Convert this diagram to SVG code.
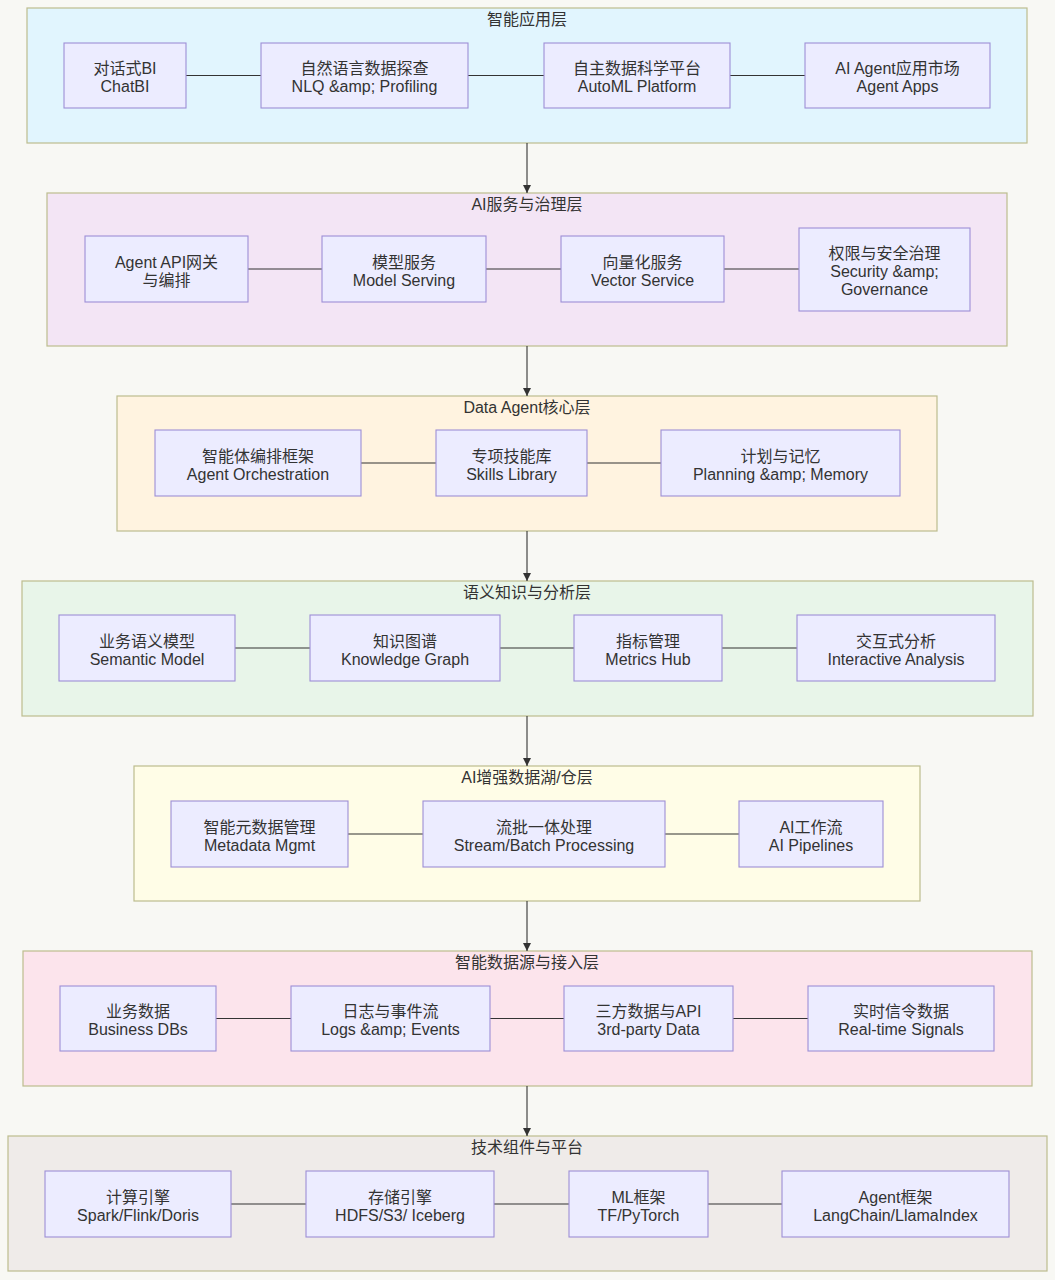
<svg xmlns="http://www.w3.org/2000/svg" width="1055" height="1280" viewBox="0 0 1055 1280">
<defs>
<style>
.bg{fill:#f8f8f4}
.layer{stroke:#bdbd8e;stroke-width:1.2}
.node rect{fill:#ececff;stroke:#9d8fd6;stroke-width:1.1}
text{font-family:"Liberation Sans","Noto Sans CJK SC",sans-serif;font-size:16px;fill:#333;text-anchor:middle}
.node text{transform:translate(0px,1.5px)}
.conn line{stroke:#333;stroke-width:1.1}
.arrow{marker-end:url(#ah)}
</style>
<marker id="ah" viewBox="0 0 10 10" refX="10" refY="5" markerWidth="8" markerHeight="8" markerUnits="userSpaceOnUse" orient="auto">
<path d="M0,0 L10,5 L0,10 z" fill="#333"/>
</marker>
</defs>
<rect class="bg" x="0" y="0" width="1055" height="1280"/>

<g id="layer1">
<rect class="layer" x="27" y="8" width="1000" height="135" fill="#e1f5fe"/>
<text x="527" y="25">智能应用层</text>
</g>
<g id="layer2">
<rect class="layer" x="47" y="193" width="960" height="153" fill="#f3e5f5"/>
<text x="527" y="210">AI服务与治理层</text>
</g>
<g id="layer3">
<rect class="layer" x="117" y="396" width="820" height="135" fill="#fff3e0"/>
<text x="527" y="413">Data Agent核心层</text>
</g>
<g id="layer4">
<rect class="layer" x="22" y="581" width="1011" height="135" fill="#e8f5e9"/>
<text x="527" y="598">语义知识与分析层</text>
</g>
<g id="layer5">
<rect class="layer" x="134" y="766" width="786" height="135" fill="#fffde7"/>
<text x="527" y="783">AI增强数据湖/仓层</text>
</g>
<g id="layer6">
<rect class="layer" x="23" y="951" width="1009" height="135" fill="#fce4ec"/>
<text x="527" y="968">智能数据源与接入层</text>
</g>
<g id="layer7">
<rect class="layer" x="8" y="1136" width="1039" height="135" fill="#efebe9"/>
<text x="527" y="1153">技术组件与平台</text>
</g>

<g id="connectors" class="conn">
<line x1="186" y1="75.5" x2="261" y2="75.5"/>
<line x1="468" y1="75.5" x2="544" y2="75.5"/>
<line x1="730" y1="75.5" x2="805" y2="75.5"/>
<line x1="248" y1="269" x2="322" y2="269"/>
<line x1="486" y1="269" x2="561" y2="269"/>
<line x1="724" y1="269" x2="799" y2="269"/>
<line x1="361" y1="463" x2="436" y2="463"/>
<line x1="587" y1="463" x2="661" y2="463"/>
<line x1="235" y1="648" x2="310" y2="648"/>
<line x1="500" y1="648" x2="574" y2="648"/>
<line x1="722" y1="648" x2="797" y2="648"/>
<line x1="348" y1="834" x2="423" y2="834"/>
<line x1="665" y1="834" x2="739" y2="834"/>
<line x1="216" y1="1018.5" x2="291" y2="1018.5"/>
<line x1="490" y1="1018.5" x2="564" y2="1018.5"/>
<line x1="733" y1="1018.5" x2="808" y2="1018.5"/>
<line x1="231" y1="1204" x2="306" y2="1204"/>
<line x1="494" y1="1204" x2="569" y2="1204"/>
<line x1="708" y1="1204" x2="782" y2="1204"/>
<line class="arrow" x1="527" y1="143" x2="527" y2="193"/>
<line class="arrow" x1="527" y1="346" x2="527" y2="396"/>
<line class="arrow" x1="527" y1="531" x2="527" y2="581"/>
<line class="arrow" x1="527" y1="716" x2="527" y2="766"/>
<line class="arrow" x1="527" y1="901" x2="527" y2="951"/>
<line class="arrow" x1="527" y1="1086" x2="527" y2="1136"/>
</g>

<g id="A1" class="node"><rect x="64" y="43" width="122" height="65"/><text x="125" y="72">对话式BI</text><text x="125" y="90">ChatBI</text></g>
<g id="A2" class="node"><rect x="261" y="43" width="207" height="65"/><text x="364.5" y="72">自然语言数据探查</text><text x="364.5" y="90">NLQ &amp;amp; Profiling</text></g>
<g id="A3" class="node"><rect x="544" y="43" width="186" height="65"/><text x="637" y="72">自主数据科学平台</text><text x="637" y="90">AutoML Platform</text></g>
<g id="A4" class="node"><rect x="805" y="43" width="185" height="65"/><text x="897.5" y="72">AI Agent应用市场</text><text x="897.5" y="90">Agent Apps</text></g>

<g id="B1" class="node"><rect x="85" y="236" width="163" height="66"/><text x="166.5" y="266">Agent API网关</text><text x="166.5" y="284">与编排</text></g>
<g id="B2" class="node"><rect x="322" y="236" width="164" height="66"/><text x="404" y="266">模型服务</text><text x="404" y="284">Model Serving</text></g>
<g id="B3" class="node"><rect x="561" y="236" width="163" height="66"/><text x="642.5" y="266">向量化服务</text><text x="642.5" y="284">Vector Service</text></g>
<g id="B4" class="node"><rect x="799" y="228" width="171" height="83"/><text x="884.5" y="257">权限与安全治理</text><text x="884.5" y="275">Security &amp;amp;</text><text x="884.5" y="293">Governance</text></g>

<g id="C1" class="node"><rect x="155" y="430" width="206" height="66"/><text x="258" y="460">智能体编排框架</text><text x="258" y="478">Agent Orchestration</text></g>
<g id="C2" class="node"><rect x="436" y="430" width="151" height="66"/><text x="511.5" y="460">专项技能库</text><text x="511.5" y="478">Skills Library</text></g>
<g id="C3" class="node"><rect x="661" y="430" width="239" height="66"/><text x="780.5" y="460">计划与记忆</text><text x="780.5" y="478">Planning &amp;amp; Memory</text></g>

<g id="D1" class="node"><rect x="59" y="615" width="176" height="66"/><text x="147" y="645">业务语义模型</text><text x="147" y="663">Semantic Model</text></g>
<g id="D2" class="node"><rect x="310" y="615" width="190" height="66"/><text x="405" y="645">知识图谱</text><text x="405" y="663">Knowledge Graph</text></g>
<g id="D3" class="node"><rect x="574" y="615" width="148" height="66"/><text x="648" y="645">指标管理</text><text x="648" y="663">Metrics Hub</text></g>
<g id="D4" class="node"><rect x="797" y="615" width="198" height="66"/><text x="896" y="645">交互式分析</text><text x="896" y="663">Interactive Analysis</text></g>

<g id="E1" class="node"><rect x="171" y="801" width="177" height="66"/><text x="259.5" y="831">智能元数据管理</text><text x="259.5" y="849">Metadata Mgmt</text></g>
<g id="E2" class="node"><rect x="423" y="801" width="242" height="66"/><text x="544" y="831">流批一体处理</text><text x="544" y="849">Stream/Batch Processing</text></g>
<g id="E3" class="node"><rect x="739" y="801" width="144" height="66"/><text x="811" y="831">AI工作流</text><text x="811" y="849">AI Pipelines</text></g>

<g id="F1" class="node"><rect x="60" y="986" width="156" height="65"/><text x="138" y="1015">业务数据</text><text x="138" y="1033">Business DBs</text></g>
<g id="F2" class="node"><rect x="291" y="986" width="199" height="65"/><text x="390.5" y="1015">日志与事件流</text><text x="390.5" y="1033">Logs &amp;amp; Events</text></g>
<g id="F3" class="node"><rect x="564" y="986" width="169" height="65"/><text x="648.5" y="1015">三方数据与API</text><text x="648.5" y="1033">3rd-party Data</text></g>
<g id="F4" class="node"><rect x="808" y="986" width="186" height="65"/><text x="901" y="1015">实时信令数据</text><text x="901" y="1033">Real-time Signals</text></g>

<g id="G1" class="node"><rect x="45" y="1171" width="186" height="66"/><text x="138" y="1201">计算引擎</text><text x="138" y="1219">Spark/Flink/Doris</text></g>
<g id="G2" class="node"><rect x="306" y="1171" width="188" height="66"/><text x="400" y="1201">存储引擎</text><text x="400" y="1219">HDFS/S3/ Iceberg</text></g>
<g id="G3" class="node"><rect x="569" y="1171" width="139" height="66"/><text x="638.5" y="1201">ML框架</text><text x="638.5" y="1219">TF/PyTorch</text></g>
<g id="G4" class="node"><rect x="782" y="1171" width="227" height="66"/><text x="895.5" y="1201">Agent框架</text><text x="895.5" y="1219">LangChain/LlamaIndex</text></g>
</svg>
